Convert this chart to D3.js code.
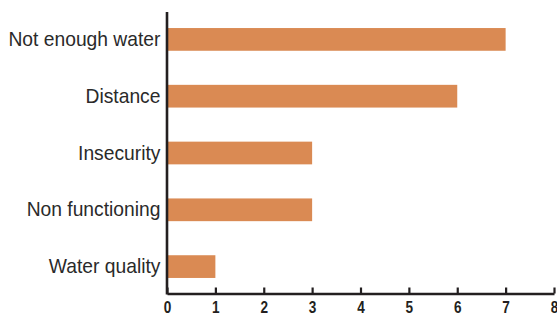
<!DOCTYPE html>
<html><head><meta charset="utf-8">
<script src="https://cdn.jsdelivr.net/npm/d3@7"></script>
<style>
body{margin:0;background:#fff;}
svg{display:block;}
</style></head>
<body>
<script>
const categories = ["Not enough water","Distance","Insecurity","Non functioning","Water quality"];
const values = [7,6,3,3,1];
const xTicks = [0,1,2,3,4,5,6,7,8];

const W = 557, H = 316;
const svg = d3.select("body").append("svg").attr("width",W).attr("height",H);

const x = d3.scaleLinear().domain([0,8]).range([167,554]);
const y = d3.scaleBand().domain(categories).range([11,295]).paddingInner(0.6).paddingOuter(0.3);
const axisY = 293.5;

svg.selectAll("rect.bar").data(values).enter().append("rect")
  .attr("class","bar")
  .attr("x", x(0))
  .attr("y", (d,i)=>y(categories[i]))
  .attr("width", d=>x(d)-x(0))
  .attr("height", y.bandwidth())
  .attr("fill","#DA8A53");

const gx = svg.append("g").attr("transform",`translate(0,${axisY})`)
  .call(d3.axisBottom(x).tickValues(xTicks).tickFormat(d3.format("d")).tickSizeInner(-6).tickSizeOuter(0).tickPadding(8));
gx.select(".domain").attr("stroke","#231f20").attr("stroke-width",2.6);
gx.selectAll(".tick line").attr("stroke","#231f20").attr("stroke-width",2.2);
gx.selectAll(".tick text").attr("fill","#231f20")
  .attr("transform","scale(0.85,1)")
  .style("font-family","'Liberation Sans',Arial,sans-serif")
  .style("font-weight","bold").style("font-size","16px");

const gy = svg.append("g").attr("transform",`translate(${x(0)},0)`)
  .call(d3.axisLeft(y).tickSize(0).tickPadding(7));
gy.select(".domain").attr("stroke","#231f20").attr("stroke-width",2.6)
  .attr("d", `M0,${12}V${axisY+1}`);
gy.selectAll(".tick text").attr("fill","#2a2a2a")
  .attr("transform","scale(0.94,1)")
  .style("font-family","'Liberation Sans',Arial,sans-serif")
  .style("font-size","20.5px");
</script>
</body></html>
